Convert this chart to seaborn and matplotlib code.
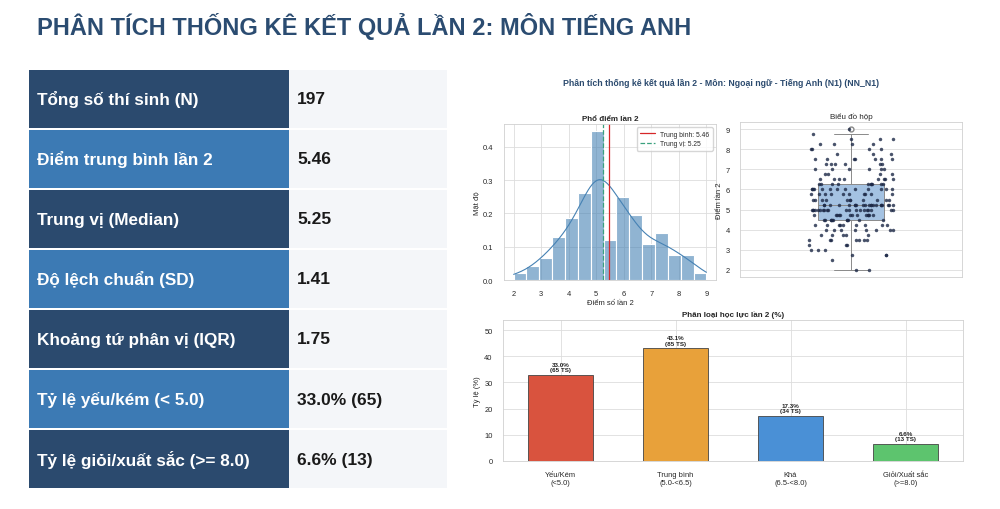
import numpy as np
import pandas as pd
import matplotlib
matplotlib.use("Agg")
import matplotlib.pyplot as plt
import seaborn as sns
from matplotlib.patches import Rectangle

# ---------------- data ----------------
score_values = [2.0, 2.5, 2.75, 3.0, 3.25, 3.5, 3.75, 4.0, 4.25, 4.5, 4.75,
                5.0, 5.25, 5.5, 5.75, 6.0, 6.25, 6.5, 6.75, 7.0, 7.25, 7.5,
                7.75, 8.0, 8.25, 8.5, 8.75, 9.0]
score_counts = [2, 1, 3, 3, 3, 7, 5, 8, 9, 11, 13,
                20, 21, 11, 10, 13, 10, 8, 4, 6, 6, 7,
                3, 4, 4, 3, 1, 1]

stat_labels = ["Tổng số thí sinh (N)", "Điểm trung bình lần 2", "Trung vị (Median)",
               "Độ lệch chuẩn (SD)", "Khoảng tứ phân vị (IQR)", "Tỷ lệ yếu/kém (< 5.0)",
               "Tỷ lệ giỏi/xuất sắc (>= 8.0)"]
stat_values = ["197", "5.46", "5.25", "1.41", "1.75", "33.0% (65)", "6.6% (13)"]

class_labels = ["Yếu/Kém\n(<5.0)", "Trung bình\n(5.0-<6.5)", "Khá\n(6.5-<8.0)", "Giỏi/Xuất sắc\n(>=8.0)"]
class_pct = [33.0, 43.1, 17.3, 6.6]
class_counts = [65, 85, 34, 13]
class_colors = ["#d9533e", "#e8a13a", "#4a90d6", "#5dc46e"]

title_text = "PHÂN TÍCH THỐNG KÊ KẾT QUẢ LẦN 2: MÔN TIẾNG ANH"
sup_text = "Phân tích thống kê kết quả lần 2 - Môn: Ngoại ngữ - Tiếng Anh (N1) (NN_N1)"

scores = np.repeat(np.array(score_values), score_counts)
mean_v = scores.mean()
median_v = np.median(scores)

# ---------------- style ----------------
sns.set_theme(style="whitegrid")
plt.rcParams["font.family"] = ["Liberation Sans", "DejaVu Sans"]
plt.rcParams["axes.edgecolor"] = "#d0d0d0"
plt.rcParams["grid.color"] = "#dddddd"
plt.rcParams["axes.linewidth"] = 0.6
plt.rcParams["grid.linewidth"] = 0.6

NAVY = "#2b4a6e"
LIGHT = "#3c7ab4"

fig = plt.figure(figsize=(10, 5.1), dpi=100)
fig.patch.set_facecolor("white")

fig.text(0.037, 0.949, title_text, fontsize=17, fontweight="bold", color="#2b4c71",
         ha="left", va="center")

# ---------------- table ----------------
tax = fig.add_axes([0.029, 20 / 510, 0.418, 420 / 510])
tax.set_xlim(0, 418)
tax.set_ylim(420, 0)
tax.axis("off")
for i, (lab, val) in enumerate(zip(stat_labels, stat_values)):
    y0 = i * 60 + 1
    tax.add_patch(Rectangle((0, y0), 260, 58, facecolor=NAVY if i % 2 == 0 else LIGHT,
                            edgecolor="none"))
    tax.add_patch(Rectangle((260, y0), 158, 58, facecolor="#f4f6f9", edgecolor="none"))
    tax.text(8, y0 + 29, lab, color="white", fontsize=12.3, fontweight="bold",
             ha="left", va="center")
    tax.text(268, y0 + 29, val, color="#1a1a1a", fontsize=12.5, fontweight="bold",
             ha="left", va="center")

fig.text(0.721, 1 - 84 / 510, sup_text, fontsize=6.3, fontweight="bold", color="#2b4a6e",
         ha="center", va="center")

TICK = 5.4
LAB = 5.5

# ---------------- histogram ----------------
ax1 = fig.add_axes([0.504, 1 - 281 / 510, 0.212, 156 / 510])
sns.histplot(scores, bins=15, stat="density", kde=True, color="steelblue", alpha=0.6,
             edgecolor="white", linewidth=0.8, ax=ax1,
             line_kws={"linewidth": 0.8, "color": "#3a6890"})
ax1.axvline(mean_v, color="#d62728", linewidth=0.9, label=f"Trung bình: {mean_v:.2f}")
ax1.axvline(median_v, color="#3aa17e", linewidth=0.9, linestyle="--",
            label=f"Trung vị: {median_v:.2f}")
ax1.set_title("Phổ điểm lần 2", fontsize=5.8, fontweight="bold", pad=3)
ax1.set_xlabel("Điểm số lần 2", fontsize=LAB, labelpad=1)
ax1.set_ylabel("Mật độ", fontsize=LAB, labelpad=2)
ax1.tick_params(labelsize=TICK, pad=1.5)
ax1.set_xticks([2, 3, 4, 5, 6, 7, 8, 9])
ax1.grid(True, axis="both")
ax1.legend(fontsize=4.8, loc="upper right", frameon=True, handlelength=2.2,
           borderpad=0.5, labelspacing=0.4)

# ---------------- box plot ----------------
np.random.seed(3)
ax2 = fig.add_axes([0.740, 1 - 278 / 510, 0.222, 155 / 510])
sns.boxplot(y=scores, ax=ax2, width=0.3, color="#a4c2e2", saturation=1,
            linecolor="#8a8a8a", linewidth=0.7,
            flierprops=dict(marker="o", markerfacecolor="white", markeredgecolor="#888888",
                            markersize=3.5))
sns.stripplot(y=scores, ax=ax2, color="#1c2846", size=2.5, jitter=0.2, alpha=0.8)
ax2.set_title("Biểu đồ hộp", fontsize=5.8, pad=3)
ax2.set_ylabel("Điểm lần 2", fontsize=LAB, labelpad=2)
ax2.set_xlabel("")
ax2.set_xticks([])
ax2.set_yticks([2, 3, 4, 5, 6, 7, 8, 9])
ax2.tick_params(labelsize=TICK, pad=1.5)

# ---------------- bar chart ----------------
ax3 = fig.add_axes([0.503, 1 - 462 / 510, 0.460, 141 / 510])
df = pd.DataFrame({"cls": class_labels, "pct": class_pct})
sns.barplot(data=df, x="cls", y="pct", hue="cls", palette=class_colors, width=0.56,
            saturation=1, edgecolor="#444444", linewidth=0.6, legend=False, ax=ax3)
for p, pct, n in zip(ax3.patches, class_pct, class_counts):
    ax3.text(p.get_x() + p.get_width() / 2, p.get_height() + 1.0,
             f"{pct:.1f}%\n({n} TS)", ha="center", va="bottom", fontsize=4.5,
             fontweight="bold", color="#222222", linespacing=1.1)
ax3.set_ylim(0, max(class_pct) * 1.25)
ax3.set_title("Phân loại học lực lần 2 (%)", fontsize=5.8, fontweight="bold", pad=3)
ax3.set_ylabel("Tỷ lệ (%)", fontsize=LAB, labelpad=2)
ax3.set_xlabel("")
ax3.tick_params(labelsize=TICK, pad=1.5)
ax3.grid(True, axis="both")
ax3.set_axisbelow(True)

fig.savefig("out.png", dpi=100, facecolor="white")
